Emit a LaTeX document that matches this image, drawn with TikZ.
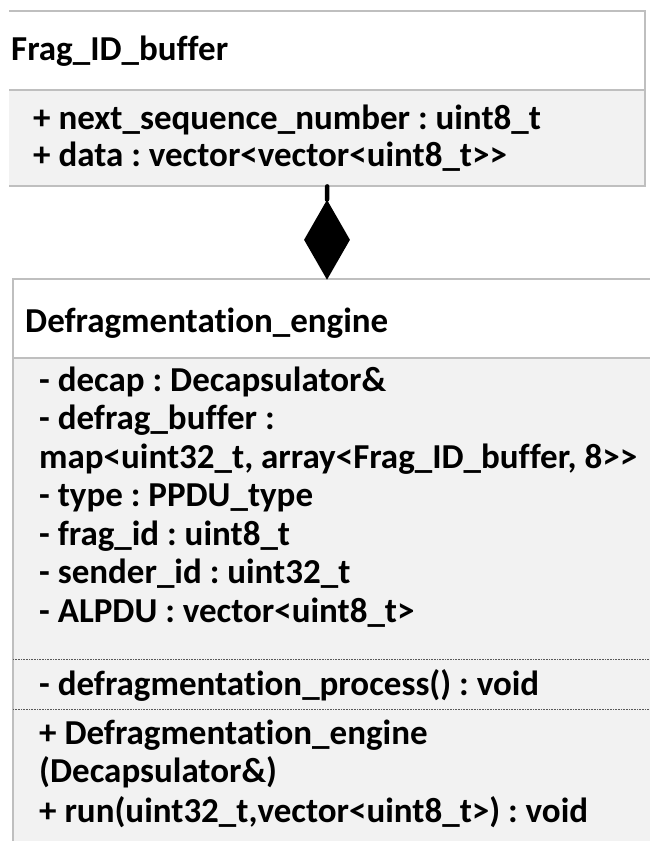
\documentclass[tikz,border=0pt]{standalone}
\usepackage{fontspec}
\setmainfont{Carlito}[Ligatures={NoCommon}]
\usetikzlibrary{shapes.geometric}
\definecolor{rule}{HTML}{BFBFBF}
\definecolor{bodyfill}{HTML}{F2F2F2}
\frenchspacing
\begin{document}
\begin{tikzpicture}[x=1pt,y=-1pt,
  boxline/.style={draw=rule, line width=1.4pt},
  sepline/.style={draw=black!65, line width=0.7pt, dash pattern=on 0.8pt off 0.8pt},
  txt/.style={anchor=base west, inner sep=0pt, font=\bfseries\fontsize{35}{42}\selectfont},
  stem/.style={line width=4.5pt, line cap=round},
  classbox/.style={draw=none, inner sep=0pt, anchor=north west},
  ]
\useasboundingbox (0,0) rectangle (650,841);

% ---- Frag_ID_buffer ----
\node[classbox, minimum width=636pt, minimum height=175pt] (frag) at (9,11) {};
\fill[white] (9,11) rectangle (645,90);
\fill[bodyfill] (9,90) rectangle (645,186);
\draw[boxline] (9,11) -- (645,11) -- (645,186) -- (9,186);
\draw[boxline] (9,90) -- (645,90);
\node[txt] (fragname) at (11,60) {Frag\_ID\_buffer};
\node[txt] (fragA) at (33,129) {+ next\_sequence\_number : uint8\_t};
\node[txt] (fragB) at (33,166) {+ data : vector<vector<uint8\_t>{}>};

% ---- Defragmentation_engine ----
\node[classbox, minimum width=637pt, minimum height=562pt] (engine) at (13,279) {};
\fill[white] (13,279) rectangle (650,358);
\fill[bodyfill] (13,358) rectangle (650,841);
\draw[boxline] (650,279) -- (13,279) -- (13,841);
\draw[boxline] (13,358) -- (650,358);
\draw[sepline] (13,659) -- (650,659);
\draw[sepline] (13,709) -- (650,709);
\node[txt] (engname) at (25,332) {Defragmentation\_engine};
\node[txt] (a1) at (39,391) {- decap : Decapsulator\&};
\node[txt] (a2) at (39,429.5) {- defrag\_buffer :};
\node[txt] (a3) at (39,468) {map<uint32\_t, array<Frag\_ID\_buffer, 8>{}>};
\node[txt] (a4) at (39,506.5) {- type : PPDU\_type};
\node[txt] (a5) at (39,545) {- frag\_id : uint8\_t};
\node[txt] (a6) at (39,583.5) {- sender\_id : uint32\_t};
\node[txt] (a7) at (39,622) {- ALPDU : vector<uint8\_t>};
\node[txt] (m1) at (39,695) {- defragmentation\_process() : void};
\node[txt] (m2) at (39,744) {+ Defragmentation\_engine};
\node[txt] (m3) at (39,782) {(Decapsulator\&)};
\node[txt] (m4) at (39,822) {+ run(uint32\_t,vector<uint8\_t>) : void};

% ---- composition ----
\node[diamond, fill=black, inner sep=0pt, minimum width=46pt, minimum height=80pt,
      anchor=south] (comp) at (327,280) {};
\draw[stem] (frag.south) -- (comp.north);
\end{tikzpicture}
\end{document}
